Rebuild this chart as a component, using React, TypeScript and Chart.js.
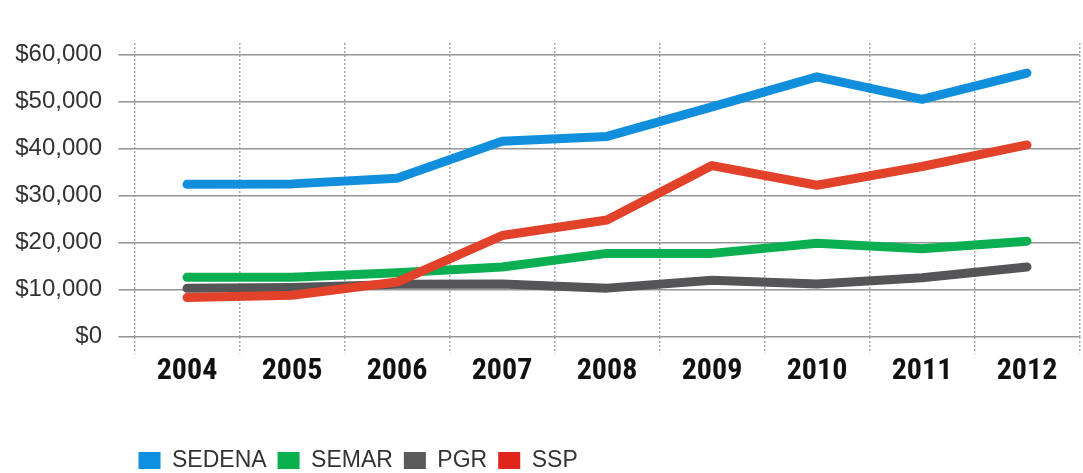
import React, { useEffect, useRef } from "react";
import { Chart, registerables } from "chart.js";

Chart.register(...registerables);

const categories = ["2004", "2005", "2006", "2007", "2008", "2009", "2010", "2011", "2012"];
const sedena = [32400, 32500, 33700, 41600, 42600, 48900, 55300, 50500, 56100];
const semar = [12600, 12600, 13600, 14800, 17700, 17700, 19850, 18700, 20300];
const pgr = [10250, 10450, 11100, 11200, 10300, 12000, 11200, 12500, 14800];
const ssp = [8300, 8800, 11600, 21500, 24800, 36400, 32200, 36200, 40800];
const yTickValues = [0, 10000, 20000, 30000, 40000, 50000, 60000];

const seriesNames = ["SEDENA", "SEMAR", "PGR", "SSP"];
const lineColors = ["#118FDC", "#0BAF52", "#555557", "#E2422A"];
const boxColors = ["#0E8FE0", "#0BB04E", "#5A5A5A", "#E0251C"];

export default function App() {
  const ref = useRef<HTMLCanvasElement | null>(null);

  useEffect(() => {
    if (!ref.current) return;
    const values = [sedena, semar, pgr, ssp];
    const shiftLegend = {
      id: "shiftLegend",
      afterLayout(chart: any) {
        if (chart.legend) {
          chart.legend.left -= 7;
          chart.legend.right -= 7;
        }
      },
    };
    const chart = new Chart(ref.current, {
      type: "line",
      data: {
        labels: categories,
        datasets: seriesNames.map((name, i) => ({
          label: name,
          data: values[i],
          borderColor: lineColors[i],
          backgroundColor: boxColors[i],
          borderWidth: 9,
          pointRadius: 0,
          tension: 0,
          borderCapStyle: "round" as const,
          borderJoinStyle: "round" as const,
          fill: false,
          order: name === "SSP" ? -1 : i,
        })),
      },
      options: {
        animation: false,
        responsive: false,
        events: [],
        layout: { padding: { top: 43, right: 3.5, left: 0, bottom: 0 } },
        scales: {
          x: {
            offset: true,
            grid: {
              offset: true,
              color: "#a8a8a8",
              lineWidth: 1.5,
              tickLength: 17,
              tickBorderDash: [2, 2],
            } as any,
            border: { display: false, dash: [2, 2] },
            ticks: {
              padding: 0,
              color: "#111111",
              font: {
                family: '"Roboto Condensed", "DejaVu Sans Condensed", "Liberation Sans Narrow", Roboto, sans-serif',
                weight: "bold",
                size: 30,
              },
            },
            afterFit(scale: any) {
              scale.height = 101.5;
            },
          },
          y: {
            min: 0,
            max: 62500,
            grid: {
              color: "#969696",
              lineWidth: 1.6,
              tickLength: 16,
            },
            border: { display: false },
            afterBuildTicks(axis: any) {
              axis.ticks = yTickValues.map((v) => ({ value: v }));
            },
            ticks: {
              padding: 16.5,
              color: "#333333",
              font: { family: '"Liberation Sans", Arial, sans-serif', size: 24 },
              callback: (v: any) => "$" + Number(v).toLocaleString("en-US"),
            },
            afterFit(scale: any) {
              scale.width = 134.5;
            },
          },
        },
        plugins: {
          legend: {
            position: "bottom",
            align: "start",
            fullSize: false,
            labels: {
              boxWidth: 22,
              boxHeight: 17,
              padding: 11,
              color: "#333333",
              font: { family: '"Liberation Sans", Arial, sans-serif', size: 23 },
              generateLabels: (c: any) =>
                c.data.datasets.map((ds: any, i: number) => ({
                  text: ds.label,
                  fillStyle: boxColors[i],
                  strokeStyle: boxColors[i],
                  lineWidth: 0,
                  hidden: false,
                  datasetIndex: i,
                  fontColor: "#333333",
                })),
            },
          },
          tooltip: { enabled: false },
        },
      },
      plugins: [shiftLegend],
    });
    return () => chart.destroy();
  }, []);

  return (
    <div style={{ position: "fixed", left: 0, top: 0, width: 1083, height: 482, background: "#fff" }}>
      <canvas ref={ref} width={1083} height={482} style={{ width: 1083, height: 482, display: "block" }} />
    </div>
  );
}
